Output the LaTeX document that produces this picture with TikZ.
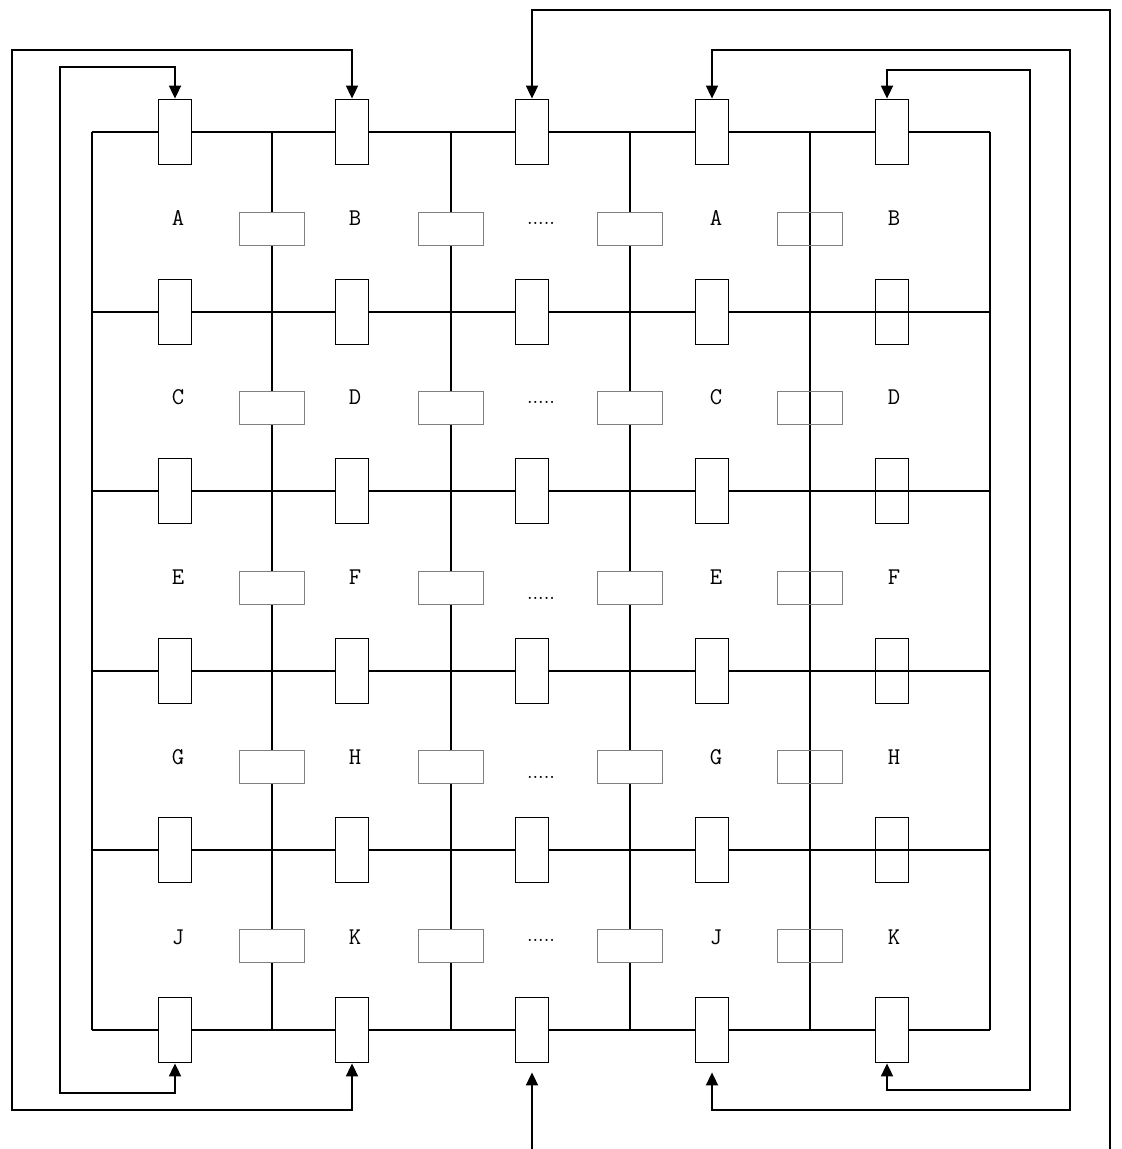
\documentclass[tikz,border=0pt]{standalone}
\usetikzlibrary{arrows.meta}
\begin{document}
\begin{tikzpicture}[x=0.5pt,y=-0.5pt,
    wire/.style={line width=0.9pt},
    vbox/.style={draw,line width=0.9pt,fill=white,minimum width=16.5pt,minimum height=32.5pt,inner sep=0pt},
    vboxopen/.style={vbox,fill=none},
    hbox/.style={draw=black!50,line width=0.9pt,fill=white,minimum width=32.5pt,minimum height=16.5pt,inner sep=0pt},
    hboxopen/.style={hbox,fill=none},
    cell/.style={font=\ttfamily\fontsize{12}{14}\selectfont,inner sep=0pt},
    dots/.style={font=\fontsize{10}{12}\selectfont,inner sep=0pt},
    feed/.style={line width=0.9pt,{Triangle[length=6.5pt,width=6pt]}-{Triangle[length=6.5pt,width=6pt]}},
    feedin/.style={line width=0.9pt,-{Triangle[length=6.5pt,width=6pt]}}]
  \useasboundingbox (0,0) rectangle (1122,1149);
  % grid
  \foreach \r/\y in {1/132,2/312,3/491,4/671,5/850,6/1030}
    \foreach \c/\x in {0/92,1/272,2/451,3/630,4/810,5/990}
      \coordinate (g-\r-\c) at (\x,\y);
  \foreach \r in {1,...,6}
    \draw[wire] (g-\r-0) -- (g-\r-5);
  \foreach \c in {0,...,5}
    \draw[wire] (g-1-\c) -- (g-6-\c);
  % boxes on the rows
  \foreach \r/\y in {1/132,2/312,3/491,4/671,5/850,6/1030}
    \foreach \c/\x in {1/175,2/352,3/532,4/712}
      \node[vbox] (vb-\r-\c) at (\x,\y) {};
  \foreach \r/\y in {1/132,6/1030}
    \node[vbox] (vb-\r-5) at (892,\y) {};
  \foreach \r/\y in {2/312,3/491,4/671,5/850}
    \node[vboxopen] (vb-\r-5) at (892,\y) {};
  % boxes on the columns
  \foreach \r/\y in {1/229,2/408,3/588,4/767,5/946}{
    \foreach \c/\x in {1/272,2/451,3/630}
      \node[hbox] (hb-\r-\c) at (\x,\y) {};
    \node[hboxopen] (hb-\r-4) at (810,\y) {};
  }
  % cell labels
  \foreach \r/\y/\p/\q/\d in {1/218/A/B/223,2/397/C/D/402,3/577/E/F/598,4/757/G/H/777,5/937/J/K/940}{
    \node[cell] (lab-\r-1) at (178,\y) {\p};
    \node[cell] (lab-\r-2) at (355,\y) {\q};
    \node[dots] (lab-\r-3) at (541,\d) {.....};
    \node[cell] (lab-\r-4) at (716,\y) {\p};
    \node[cell] (lab-\r-5) at (894,\y) {\q};
  }
  % feedback wires
  \coordinate (la-t) at (60,67);
  \coordinate (la-b) at (60,1093);
  \coordinate (lb-t) at (12,50);
  \coordinate (lb-b) at (12,1110);
  \coordinate (lc-s) at (532,1149);
  \coordinate (lc-e) at (1110,1149);
  \coordinate (lc-t) at (1110,10);
  \coordinate (ld-t) at (1070,50);
  \coordinate (ld-b) at (1070,1110);
  \coordinate (le-t) at (1030,70);
  \coordinate (le-b) at (1030,1090);
  \draw[feed] (vb-6-1.south) |- (la-b) -- (la-t) -| (vb-1-1.north);
  \draw[feed] (vb-6-2.south) |- (lb-b) -- (lb-t) -| (vb-1-2.north);
  \draw[feedin,shorten >=4.5pt] (lc-s) -- (vb-6-3.south);
  \draw[feedin] (lc-e) -- (lc-t) -| (vb-1-3.north);
  \draw[feed,shorten >=4.5pt] (vb-1-4.north) |- (ld-t) -- (ld-b) -| (vb-6-4.south);
  \draw[feed] ([xshift=-2.5pt]vb-1-5.north) |- (le-t) -- (le-b) -| ([xshift=-2.5pt]vb-6-5.south);
\end{tikzpicture}
\end{document}
